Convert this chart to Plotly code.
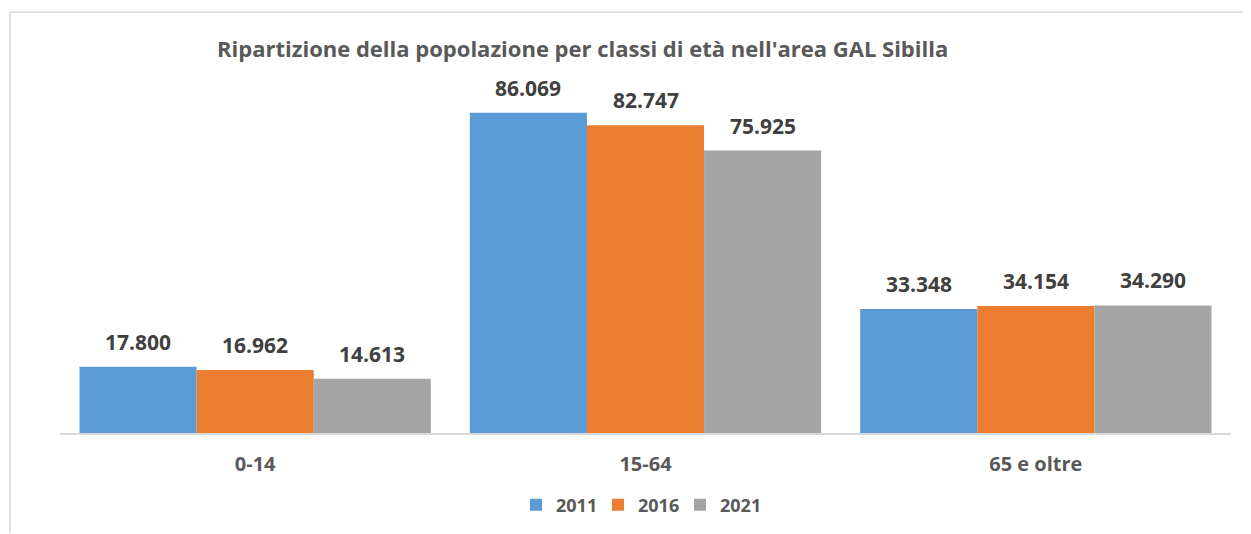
import plotly.graph_objects as go

categories = ["0-14", "15-64", "65 e oltre"]
years = ["2011", "2016", "2021"]
values_2011 = [17800, 86069, 33348]
values_2016 = [16962, 82747, 34154]
values_2021 = [14613, 75925, 34290]
colors = ["#5B9BD5", "#ED7D31", "#A5A5A5"]
title_text = "Ripartizione della popolazione per classi di età nell'area GAL Sibilla"

FONT = "Open Sans"
W, H = 1243, 526
L, R, T, B = 52, 20, 53, 100
pw = W - L - R
ph = H - T - B

series = [values_2011, values_2016, values_2021]
bargap = 0.1
group_px = pw / len(categories)
bar_px = group_px * (1 - bargap) / len(series)

fig = go.Figure()
annotations = []
for i, (name, vals, col) in enumerate(zip(years, series, colors)):
    fig.add_trace(go.Bar(
        x=categories, y=vals, name="<b>" + name + "</b>",
        marker=dict(color=col, line=dict(width=0)),
    ))
    shift = (i - (len(series) - 1) / 2) * bar_px
    for c, v in zip(categories, vals):
        annotations.append(dict(
            x=c, y=v, xref="x", yref="y", text="<b>" + f"{v:,}".replace(",", ".") + "</b>",
            showarrow=False, xanchor="center", yanchor="bottom", xshift=shift, yshift=9,
            font=dict(family=FONT, size=21, color="#404040")))

annotations.append(dict(text="<b>" + title_text + "</b>", xref="paper", yref="paper",
                        x=(574 - L) / pw, y=(T + ph - 40) / ph, xanchor="center", yanchor="middle",
                        showarrow=False, font=dict(family=FONT, size=22, color="#595959")))

def px_x(px):
    return (px - L) / pw

def px_y(py):
    return (T + ph - py) / ph

fig.update_layout(
    width=W, height=H,
    margin=dict(l=L, r=R, t=T, b=B),
    paper_bgcolor="white", plot_bgcolor="white",
    barmode="group", bargap=bargap, bargroupgap=0,
    showlegend=True,
    legend=dict(orientation="h", x=px_x(508), xanchor="left", y=px_y(497), yanchor="middle",
                font=dict(family=FONT, size=18, color="#595959"),
                itemwidth=30, entrywidth=37, entrywidthmode="pixels", traceorder="normal"),
    xaxis=dict(showline=True, linecolor="#D9D9D9", linewidth=1.5, ticks="",
               tickfont=dict(family=FONT, size=20, color="#595959"),
               showgrid=False, tickprefix="<b>", ticksuffix="</b>"),
    yaxis=dict(range=[0, 100000], visible=False, showgrid=False),
    annotations=annotations,
    shapes=[
        dict(type="line", xref="paper", yref="paper", x0=px_x(2), x1=px_x(W),
             y0=px_y(4), y1=px_y(4), line=dict(color="#D9D9D9", width=1.5)),
        dict(type="line", xref="paper", yref="paper", x0=px_x(2), x1=px_x(2),
             y0=px_y(4), y1=px_y(H), line=dict(color="#D9D9D9", width=1.5)),
    ],
)
fig.update_xaxes(ticklabelstandoff=12)
fig.write_html("out.html")
